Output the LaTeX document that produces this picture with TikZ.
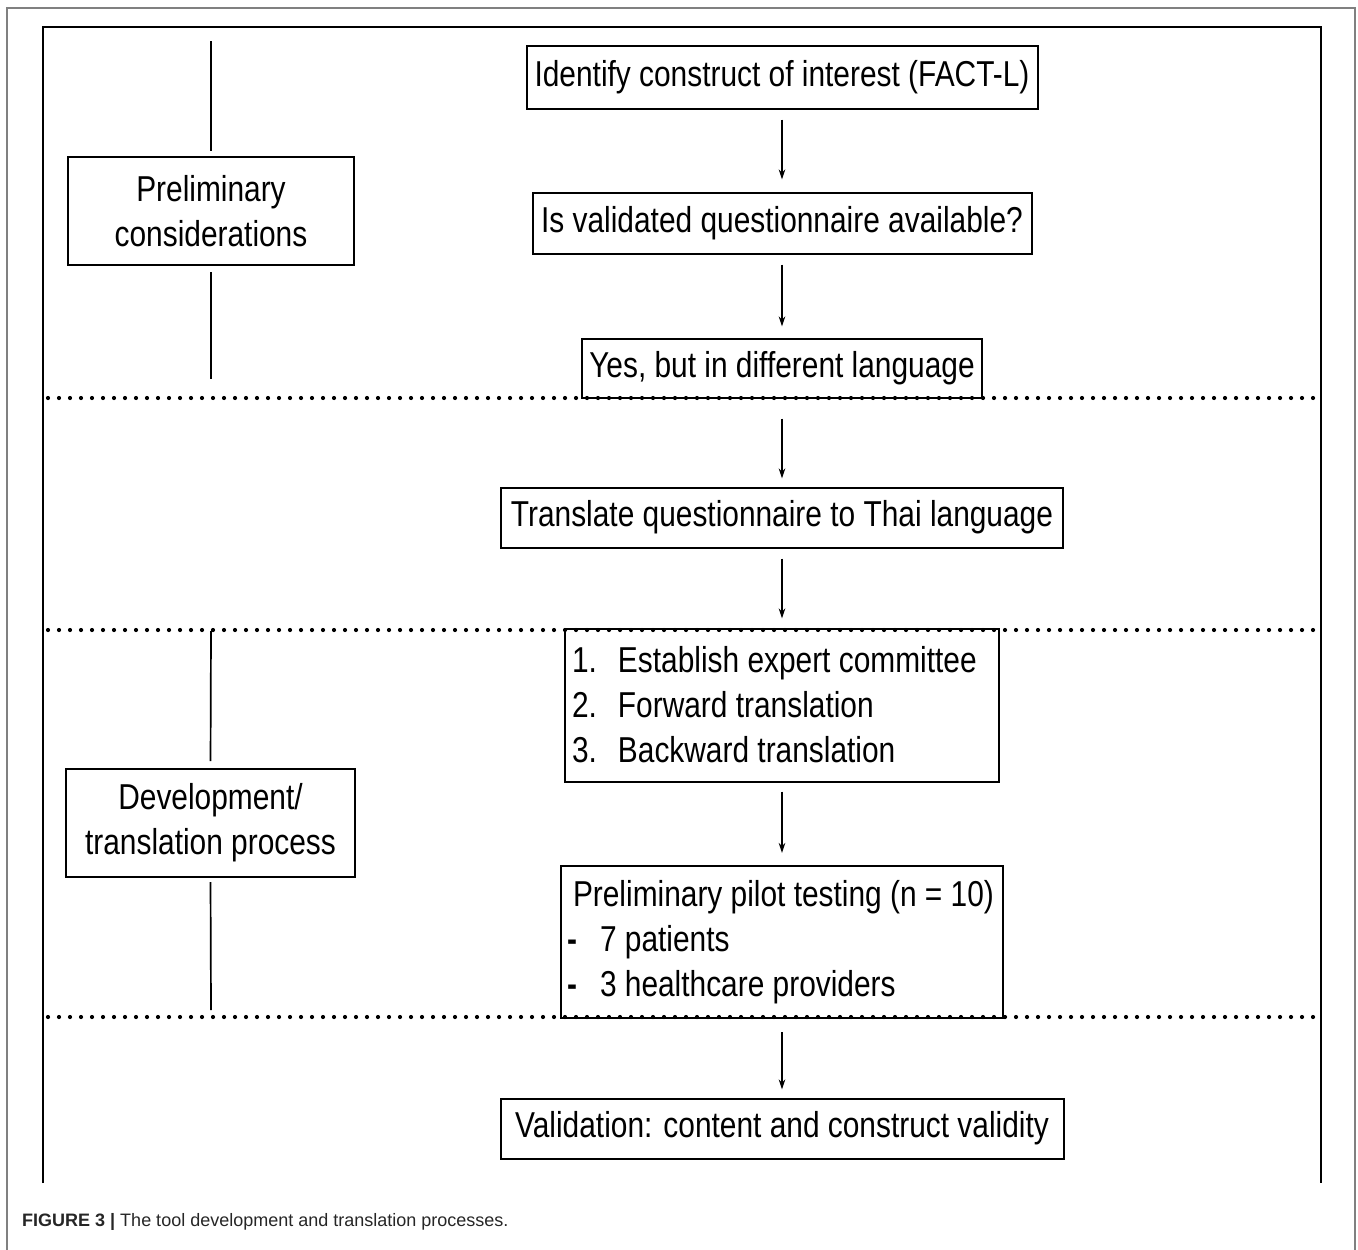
\documentclass[tikz,border=0pt]{standalone}
\usepackage{fontspec}
\setmainfont{Liberation Sans}
\newfontfamily\narrowfont[FakeStretch=0.83]{Liberation Sans}
\usetikzlibrary{arrows.meta}
\begin{document}
\begin{tikzpicture}[x=1pt,y=-1pt,
  box/.style={draw, line width=2pt, inner sep=0pt, font=\narrowfont\fontsize{36}{45}\selectfont, align=center},
  listbox/.style={box, align=flush left},
  conn/.style={line width=1.5pt, -{Stealth[length=10pt,width=6.5pt]}},
  stem/.style={line width=1.7pt},
  divider/.style={line width=4.2pt, dash pattern=on 0pt off 11pt, line cap=round},
  outerframe/.style={draw=black!50, line width=1.5pt},
  innerframe/.style={draw=black, line width=2.2pt},
]
\useasboundingbox (0,0) rectangle (1358,1250);

% frames (open at the bottom)
\draw[outerframe] (7,1250) -- (7,8) -- (1355,8) -- (1355,1250);
\draw[innerframe] (43,1183) -- (43,27) -- (1321,27) -- (1321,1183);

% dividers
\coordinate (d1l) at (48,398);  \coordinate (d1r) at (1321,398);
\coordinate (d2l) at (48,630);  \coordinate (d2r) at (1321,630);
\coordinate (d3l) at (48,1017); \coordinate (d3r) at (1321,1017);
\draw[divider] (d1l) -- (d1r);
\draw[divider] (d2l) -- (d2r);
\draw[divider] (d3l) -- (d3r);

% main flow
\node[box, minimum width=511pt, minimum height=63pt] (b1) at (782,77) {Identify construct of interest (FACT-L)};
\node[box, minimum width=499pt, minimum height=61pt] (b2) at (782,223) {Is validated questionnaire available?};
\node[box, minimum width=400pt, minimum height=59pt] (b3) at (782,368) {Yes, but in different language};
\node[box, minimum width=562pt, minimum height=60pt] (b4) at (782,517.5) {Translate questionnaire to Thai language};
\node[listbox, minimum width=434pt, minimum height=153pt, text width=420pt] (b5) at (782,705)
  {\makebox[46pt][l]{1.}Establish expert committee\\
   \makebox[46pt][l]{2.}Forward translation\\
   \makebox[46pt][l]{3.}Backward translation};
\node[listbox, minimum width=442pt, minimum height=152pt, text width=430pt] (b6) at (782,942)
  {\hspace*{6pt}Preliminary pilot testing (n = 10)\\
   \makebox[33pt][l]{\bfseries -}7 patients\\
   \makebox[33pt][l]{\bfseries -}3 healthcare providers};
\node[box, minimum width=563pt, minimum height=60pt] (b7) at (782,1128.5) {Validation: content and construct validity};

\draw[conn, shorten <=10pt, shorten >=12pt] (b1.south) -- (b2.north);
\draw[conn, shorten <=10pt, shorten >=11pt] (b2.south) -- (b3.north);
\draw[conn, shorten <=20pt, shorten >=8pt] (b3.south) -- (b4.north);
\draw[conn, shorten <=10pt, shorten >=9pt] (b4.south) -- (b5.north);
\draw[conn, shorten <=9pt, shorten >=12pt] (b5.south) -- (b6.north);
\draw[conn, shorten <=13pt, shorten >=8pt] (b6.south) -- (b7.north);

% phase labels
\node[box, minimum width=286pt, minimum height=108pt] (p1) at (211,211) {Preliminary\\considerations};
\node[box, minimum width=289pt, minimum height=108pt] (p2) at (210.5,823) {Development/\\translation process};

\coordinate (s1) at (211,41);
\coordinate (s2) at (211,379);
\coordinate (s3) at (211,631);
\coordinate (s4) at (211,1010);
\draw[stem, shorten >=5pt] (s1) -- (p1.north);
\draw[stem, shorten <=6pt] (p1.south) -- (s2);
\draw[stem, shorten >=7pt] (s3) -- (p2.north);
\draw[stem, shorten <=4pt] (p2.south) -- (s4);

% caption
\node[anchor=west, inner sep=0pt, font=\fontsize{18}{22}\selectfont, text=black!85] (cap) at (22,1222)
  {{\bfseries FIGURE 3 |} The tool development and translation processes.};
\end{tikzpicture}
\end{document}
